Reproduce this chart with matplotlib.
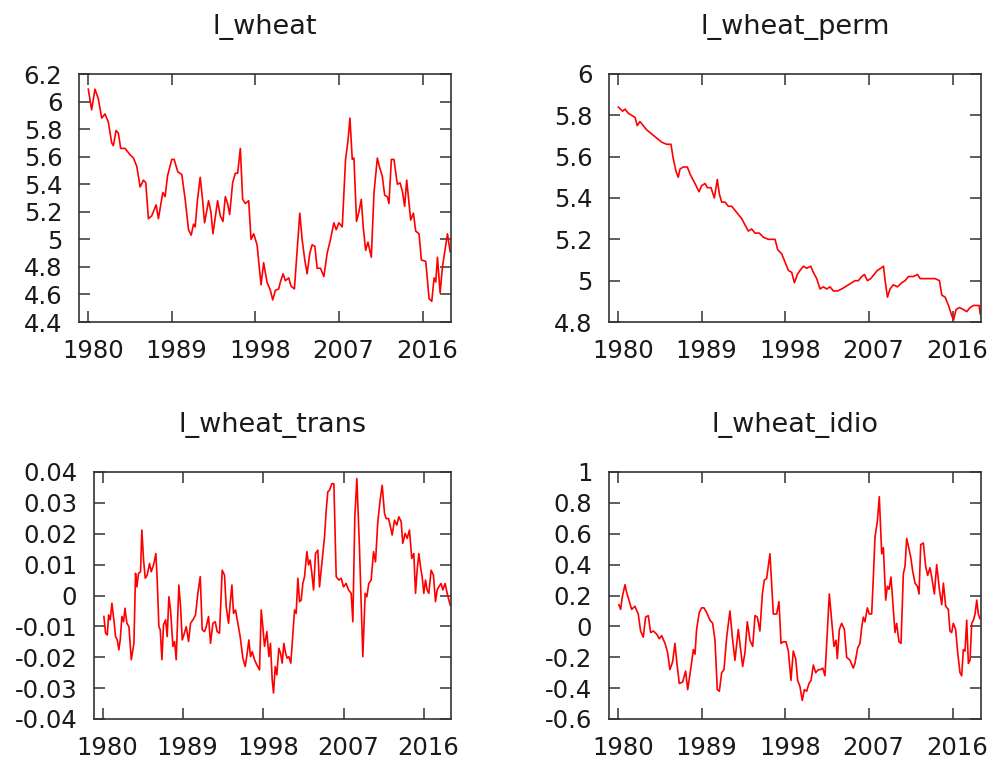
import numpy as np
import matplotlib
matplotlib.use("Agg")
import matplotlib.pyplot as plt
from matplotlib.ticker import FuncFormatter, FixedLocator
from matplotlib.transforms import ScaledTranslation

plt.rcParams['font.family'] = ['DejaVu Sans']
plt.rcParams['axes.unicode_minus'] = False

# ---------------- data ----------------
titles = ["l_wheat", "l_wheat_perm", "l_wheat_trans", "l_wheat_idio"]
year_ticks = [1980, 1989, 1998, 2007, 2016]

wheat_year = [1980.0, 1980.36, 1980.72, 1981.08, 1981.44, 1981.80, 1982.16, 1982.52, 1982.70, 1982.99,
              1983.24, 1983.49, 1983.96, 1984.42, 1984.86, 1985.22, 1985.58, 1985.94, 1986.19, 1986.47,
              1986.83, 1987.30, 1987.55, 1988.02, 1988.27, 1988.53, 1988.99, 1989.24, 1989.64, 1990.07,
              1990.43, 1990.79, 1991.08, 1991.33, 1991.51, 1991.76, 1992.05, 1992.30, 1992.52, 1992.95,
              1993.20, 1993.42, 1993.92, 1994.21, 1994.50, 1994.75, 1995.00, 1995.22, 1995.54, 1995.83,
              1996.08, 1996.37, 1996.62, 1996.91, 1997.27, 1997.52, 1997.81, 1998.17, 1998.60, 1998.88,
              1999.24, 1999.60, 1999.86, 2000.14, 2000.50, 2000.68, 2000.97, 2001.22, 2001.58, 2001.83,
              2002.19, 2002.48, 2002.77, 2003.02, 2003.31, 2003.56, 2003.85, 2004.10, 2004.39, 2004.64,
              2005.00, 2005.36, 2005.72, 2006.08, 2006.44, 2006.69, 2006.98, 2007.34, 2007.70, 2007.95,
              2008.17, 2008.42, 2008.60, 2008.88, 2009.14, 2009.39, 2009.60, 2009.86, 2010.11, 2010.47,
              2010.76, 2011.12, 2011.37, 2011.65, 2011.91, 2012.19, 2012.37, 2012.63, 2012.91, 2013.27,
              2013.56, 2013.81, 2014.06, 2014.28, 2014.71, 2015.00, 2015.25, 2015.61, 2015.86, 2016.33,
              2016.69, 2016.98, 2017.23, 2017.41, 2017.59, 2017.88, 2018.13, 2018.38, 2018.67, 2018.96]
wheat_vals = [6.09, 5.94, 6.09, 6.02, 5.88, 5.91, 5.85, 5.70, 5.68, 5.79,
              5.77, 5.66, 5.66, 5.62, 5.59, 5.53, 5.38, 5.43, 5.41, 5.15,
              5.17, 5.25, 5.15, 5.34, 5.31, 5.46, 5.58, 5.58, 5.49, 5.47,
              5.29, 5.07, 5.03, 5.11, 5.09, 5.29, 5.45, 5.29, 5.12, 5.28,
              5.20, 5.04, 5.28, 5.17, 5.13, 5.31, 5.26, 5.18, 5.41, 5.48,
              5.48, 5.66, 5.29, 5.26, 5.28, 5.00, 5.04, 4.96, 4.67, 4.83,
              4.69, 4.63, 4.56, 4.63, 4.64, 4.69, 4.75, 4.70, 4.72, 4.66,
              4.64, 4.92, 5.19, 5.00, 4.85, 4.75, 4.90, 4.96, 4.95, 4.79,
              4.79, 4.73, 4.90, 5.00, 5.12, 5.07, 5.12, 5.09, 5.58, 5.71,
              5.88, 5.58, 5.59, 5.13, 5.20, 5.29, 5.09, 4.92, 4.98, 4.87,
              5.34, 5.59, 5.52, 5.46, 5.32, 5.31, 5.26, 5.58, 5.58, 5.40,
              5.41, 5.35, 5.24, 5.43, 5.14, 5.19, 5.06, 5.04, 4.85, 4.84,
              4.57, 4.55, 4.72, 4.69, 4.87, 4.61, 4.80, 4.91, 5.04, 4.91]

perm_year = [1980.0, 1980.47, 1980.72, 1981.08, 1981.44, 1981.80, 1982.05, 1982.33, 1982.69, 1983.05,
             1983.59, 1984.13, 1984.67, 1985.21, 1985.67, 1985.92, 1986.21, 1986.46, 1986.64, 1987.00,
             1987.43, 1987.79, 1988.26, 1988.69, 1988.98, 1989.34, 1989.59, 1989.98, 1990.34, 1990.66,
             1990.88, 1991.13, 1991.49, 1991.85, 1992.21, 1992.57, 1992.93, 1993.29, 1993.64, 1994.00,
             1994.36, 1994.72, 1995.19, 1995.62, 1996.16, 1996.52, 1996.88, 1997.16, 1997.59, 1997.95,
             1998.31, 1998.67, 1998.96, 1999.28, 1999.57, 1999.93, 2000.29, 2000.72, 2001.00, 2001.36,
             2001.72, 2002.08, 2002.44, 2002.80, 2003.16, 2003.59, 2004.06, 2004.42, 2004.78, 2005.13,
             2005.49, 2005.85, 2006.21, 2006.50, 2006.82, 2007.18, 2007.54, 2007.90, 2008.26, 2008.55,
             2008.73, 2008.98, 2009.26, 2009.62, 2010.05, 2010.52, 2010.88, 2011.24, 2011.78, 2012.21,
             2012.50, 2013.03, 2013.57, 2014.11, 2014.58, 2014.83, 2015.19, 2015.55, 2015.91, 2016.09,
             2016.37, 2016.73, 2017.16, 2017.52, 2017.88, 2018.24, 2018.60, 2018.85, 2018.96]
perm_vals = [5.84, 5.82, 5.83, 5.81, 5.80, 5.79, 5.75, 5.77, 5.75, 5.73,
             5.71, 5.69, 5.67, 5.66, 5.66, 5.59, 5.53, 5.50, 5.54, 5.55,
             5.55, 5.51, 5.47, 5.43, 5.46, 5.47, 5.45, 5.45, 5.40, 5.49,
             5.42, 5.38, 5.38, 5.36, 5.36, 5.34, 5.32, 5.30, 5.27, 5.24,
             5.25, 5.23, 5.23, 5.21, 5.20, 5.20, 5.20, 5.15, 5.13, 5.09,
             5.05, 5.04, 4.99, 5.03, 5.05, 5.07, 5.06, 5.07, 5.04, 5.01,
             4.96, 4.97, 4.96, 4.97, 4.95, 4.95, 4.96, 4.97, 4.98, 4.99,
             5.00, 5.00, 5.02, 5.03, 5.00, 5.01, 5.03, 5.05, 5.06, 5.07,
             5.00, 4.92, 4.96, 4.98, 4.97, 4.99, 5.00, 5.02, 5.02, 5.03,
             5.01, 5.01, 5.01, 5.01, 5.00, 4.93, 4.92, 4.88, 4.83, 4.81,
             4.86, 4.87, 4.86, 4.85, 4.87, 4.88, 4.88, 4.88, 4.84]

trans_year = [1980.11, 1980.30, 1980.49, 1980.64, 1980.82, 1981.01, 1981.23, 1981.42, 1981.61, 1981.79,
              1981.94, 1982.13, 1982.32, 1982.47, 1982.69, 1982.92, 1983.18, 1983.48, 1983.66, 1983.81,
              1984.00, 1984.22, 1984.37, 1984.56, 1984.75, 1984.97, 1985.23, 1985.42, 1985.68, 1985.94,
              1986.09, 1986.28, 1986.43, 1986.62, 1986.80, 1987.03, 1987.21, 1987.40, 1987.59, 1987.85,
              1988.04, 1988.22, 1988.52, 1988.71, 1988.90, 1989.08, 1989.35, 1989.61, 1989.83, 1990.09,
              1990.39, 1990.65, 1990.92, 1991.14, 1991.40, 1991.59, 1991.85, 1992.07, 1992.34, 1992.60,
              1992.82, 1993.08, 1993.38, 1993.64, 1993.83, 1994.09, 1994.28, 1994.47, 1994.65, 1994.88,
              1995.14, 1995.40, 1995.70, 1995.96, 1996.19, 1996.37, 1996.56, 1996.75, 1997.01, 1997.27,
              1997.57, 1997.76, 1997.94, 1998.13, 1998.39, 1998.62, 1998.80, 1998.99, 1999.14, 1999.33,
              1999.51, 1999.74, 1999.93, 2000.11, 2000.30, 2000.49, 2000.67, 2000.86, 2001.08, 2001.31,
              2001.50, 2001.68, 2001.87, 2002.06, 2002.24, 2002.43, 2002.62, 2002.88, 2003.07, 2003.25,
              2003.44, 2003.63, 2003.85, 2004.11, 2004.30, 2004.56, 2004.86, 2005.05, 2005.23, 2005.42,
              2005.68, 2005.91, 2006.17, 2006.47, 2006.73, 2006.99, 2007.29, 2007.55, 2007.85, 2008.04,
              2008.26, 2008.49, 2008.79, 2009.16, 2009.42, 2009.61, 2009.83, 2010.09, 2010.36, 2010.58,
              2010.84, 2011.10, 2011.33, 2011.59, 2011.78, 2012.04, 2012.22, 2012.45, 2012.71, 2012.97,
              2013.20, 2013.46, 2013.64, 2013.91, 2014.13, 2014.39, 2014.65, 2014.88, 2015.07, 2015.25,
              2015.44, 2015.63, 2015.81, 2016.00, 2016.19, 2016.37, 2016.56, 2016.82, 2017.08, 2017.31,
              2017.50, 2017.68, 2017.94, 2018.13, 2018.39, 2018.62, 2018.96]
# values in hundredths
trans_hund = [-0.68, -1.22, -1.28, -0.63, -0.79, -0.25, -0.79, -1.33, -1.44, -1.76,
              -1.44, -0.68, -0.85, -0.41, -0.90, -1.01, -2.08, -1.55, 0.72, 0.28,
              0.72, 0.77, 2.12, 1.15, 0.56, 0.66, 1.04, 0.77, 0.99, 1.36,
              0.50, -1.01, -1.11, -2.08, -0.95, -0.79, -1.33, -0.04, -0.47, -1.65,
              -1.49, -2.08, 0.34, -0.36, -1.44, -1.28, -1.01, -1.49, -0.90, -0.79,
              -0.63, 0.07, 0.61, -1.11, -1.17, -1.01, -0.68, -1.55, -0.90, -0.85,
              -1.17, -1.22, 0.82, 0.66, -0.36, -0.90, -0.25, 0.34, -0.58, -0.47,
              -0.90, -1.33, -2.03, -2.30, -1.87, -1.44, -1.98, -1.82, -2.08, -2.25,
              -2.41, -0.47, -1.01, -1.65, -1.17, -1.98, -1.55, -2.73, -3.16, -2.30,
              -2.57, -1.71, -1.87, -2.19, -1.55, -1.87, -2.03, -1.98, -2.19, -1.22,
              -0.47, -0.58, 0.56, -0.20, -0.15, 0.39, 0.61, 1.42, 0.99, 1.15,
              0.72, 0.18, 1.36, 1.47, 0.28, 1.04, 1.90, 2.76, 3.36, 3.41,
              3.62, 3.62, 0.61, 0.50, 0.56, 0.28, 0.39, 0.18, 0.07, -0.85,
              2.55, 3.79, 1.47, -1.98, 0.07, -0.04, 0.39, 0.50, 1.42, 1.09,
              2.39, 3.09, 3.57, 2.66, 2.49, 2.49, 2.28, 1.96, 2.44, 2.28,
              2.55, 2.39, 1.69, 2.01, 1.85, 2.12, 1.20, 1.36, 0.07, 0.82,
              1.36, 0.93, 0.61, 0.07, 0.50, 0.18, 0.07, 0.82, 0.66, -0.20,
              0.18, 0.28, 0.39, 0.18, 0.39, 0.07, -0.31]

idio_year = [1980.07, 1980.25, 1980.43, 1980.72, 1980.90, 1981.15, 1981.44, 1981.79, 1982.15, 1982.40,
             1982.69, 1982.94, 1983.23, 1983.48, 1983.77, 1984.13, 1984.41, 1984.67, 1985.03, 1985.31,
             1985.56, 1985.85, 1986.10, 1986.35, 1986.57, 1986.93, 1987.25, 1987.47, 1987.79, 1988.08,
             1988.26, 1988.43, 1988.72, 1988.97, 1989.22, 1989.51, 1989.87, 1990.16, 1990.41, 1990.66,
             1990.88, 1991.13, 1991.38, 1991.67, 1992.02, 1992.28, 1992.56, 1992.92, 1993.10, 1993.39,
             1993.64, 1993.89, 1994.18, 1994.47, 1994.72, 1994.97, 1995.25, 1995.51, 1995.72, 1995.97,
             1996.33, 1996.51, 1996.69, 1997.05, 1997.30, 1997.52, 1997.77, 1998.05, 1998.31, 1998.59,
             1998.84, 1999.10, 1999.31, 1999.56, 1999.81, 2000.03, 2000.28, 2000.53, 2000.75, 2001.00,
             2001.25, 2001.54, 2001.79, 2002.01, 2002.25, 2002.72, 2002.97, 2003.22, 2003.44, 2003.58,
             2003.80, 2004.05, 2004.34, 2004.59, 2004.95, 2005.30, 2005.48, 2005.77, 2006.02, 2006.20,
             2006.38, 2006.56, 2006.81, 2007.03, 2007.28, 2007.46, 2007.64, 2007.89, 2008.10, 2008.36,
             2008.54, 2008.79, 2008.97, 2009.15, 2009.36, 2009.54, 2009.79, 2009.97, 2010.22, 2010.44,
             2010.69, 2010.87, 2011.05, 2011.23, 2011.48, 2011.69, 2011.95, 2012.20, 2012.38, 2012.56,
             2012.84, 2013.09, 2013.31, 2013.56, 2013.74, 2014.03, 2014.28, 2014.57, 2014.82, 2015.00,
             2015.25, 2015.53, 2015.71, 2015.89, 2016.07, 2016.32, 2016.54, 2016.79, 2016.97, 2017.15,
             2017.33, 2017.51, 2017.69, 2017.87, 2018.05, 2018.23, 2018.41, 2018.59, 2018.76, 2018.94]
idio_vals = [0.14, 0.11, 0.19, 0.27, 0.22, 0.17, 0.11, 0.13, 0.08, -0.03,
             -0.07, 0.06, 0.07, -0.04, -0.03, -0.05, -0.08, -0.06, -0.11, -0.17,
             -0.28, -0.23, -0.11, -0.26, -0.37, -0.36, -0.29, -0.41, -0.28, -0.15,
             -0.18, -0.02, 0.09, 0.12, 0.12, 0.09, 0.04, 0.02, -0.09, -0.41,
             -0.42, -0.30, -0.28, -0.07, 0.10, -0.07, -0.22, -0.02, -0.11, -0.26,
             -0.17, 0.03, -0.09, -0.13, 0.07, 0.06, -0.03, 0.21, 0.30, 0.31,
             0.47, 0.28, 0.08, 0.08, 0.16, -0.11, -0.10, -0.10, -0.16, -0.35,
             -0.16, -0.21, -0.35, -0.39, -0.48, -0.41, -0.42, -0.37, -0.35, -0.25,
             -0.30, -0.28, -0.28, -0.27, -0.32, 0.21, 0.04, -0.13, -0.09, -0.21,
             -0.02, 0.02, -0.02, -0.20, -0.22, -0.27, -0.24, -0.14, -0.11, -0.01,
             0.06, 0.03, 0.12, 0.08, 0.08, 0.32, 0.58, 0.68, 0.84, 0.47,
             0.51, 0.17, 0.26, 0.24, 0.32, 0.17, -0.04, 0.02, -0.10, -0.11,
             0.34, 0.39, 0.57, 0.52, 0.45, 0.36, 0.28, 0.26, 0.21, 0.53,
             0.54, 0.39, 0.33, 0.38, 0.32, 0.21, 0.40, 0.24, 0.14, 0.28,
             0.13, 0.11, -0.03, -0.04, 0.02, -0.02, -0.17, -0.30, -0.32, -0.15,
             -0.16, 0.04, -0.24, -0.22, 0.02, 0.04, 0.08, 0.17, 0.08, 0.05]

wheat_yticks = [4.4, 4.6, 4.8, 5.0, 5.2, 5.4, 5.6, 5.8, 6.0, 6.2]
perm_yticks = [4.8, 5.0, 5.2, 5.4, 5.6, 5.8, 6.0]
trans_yticks = [-0.04, -0.03, -0.02, -0.01, 0.0, 0.01, 0.02, 0.03, 0.04]
idio_yticks = [-0.6, -0.4, -0.2, 0.0, 0.2, 0.4, 0.6, 0.8, 1.0]

series = [
    (wheat_year, np.array(wheat_vals), wheat_yticks),
    (perm_year, np.array(perm_vals), perm_yticks),
    (trans_year, np.array(trans_hund) / 100.0, trans_yticks),
    (idio_year, np.array(idio_vals), idio_yticks),
]

# ---------------- layout (pixels) ----------------
W, H = 997, 764
boxes = [(79, 74, 451, 322), (609, 74, 981, 322),
         (94, 472, 451, 719), (609, 472, 981, 719)]

fig = plt.figure(figsize=(W / 100, H / 100), dpi=100)
fmt = FuncFormatter(lambda v, p: f"{round(v, 6):g}")
FS = 17.5
TFS = 19.5
TXT = '#1a1a1a'
shift = ScaledTranslation(4.5 / 100, 0, fig.dpi_scale_trans)

for (x0, y0, x1, y1), (yr, vals, yt), title in zip(boxes, series, titles):
    ax = fig.add_axes([x0 / W, 1 - y1 / H, (x1 - x0) / W, (y1 - y0) / H])
    ax.plot(yr, vals, color='#ff0000', lw=1.2)
    ax.set_xlim(1979.0, 2019.05)
    ax.set_ylim(yt[0], yt[-1])
    ax.xaxis.set_major_locator(FixedLocator(year_ticks))
    ax.yaxis.set_major_locator(FixedLocator(yt))
    ax.yaxis.set_major_formatter(fmt)
    ax.tick_params(direction='in', length=8, width=1.1, color='#333333',
                   top=True, right=True, labelsize=FS, labelcolor=TXT)
    ax.tick_params(axis='y', pad=12)
    ax.tick_params(axis='x', pad=12.3)
    for lab in ax.get_xticklabels():
        lab.set_transform(lab.get_transform() + shift)
    for s in ax.spines.values():
        s.set_color('#333333')
        s.set_linewidth(1.2)
    ax.set_title(title, fontsize=TFS, color=TXT, pad=28.5)

fig.savefig("out.png", dpi=100)
